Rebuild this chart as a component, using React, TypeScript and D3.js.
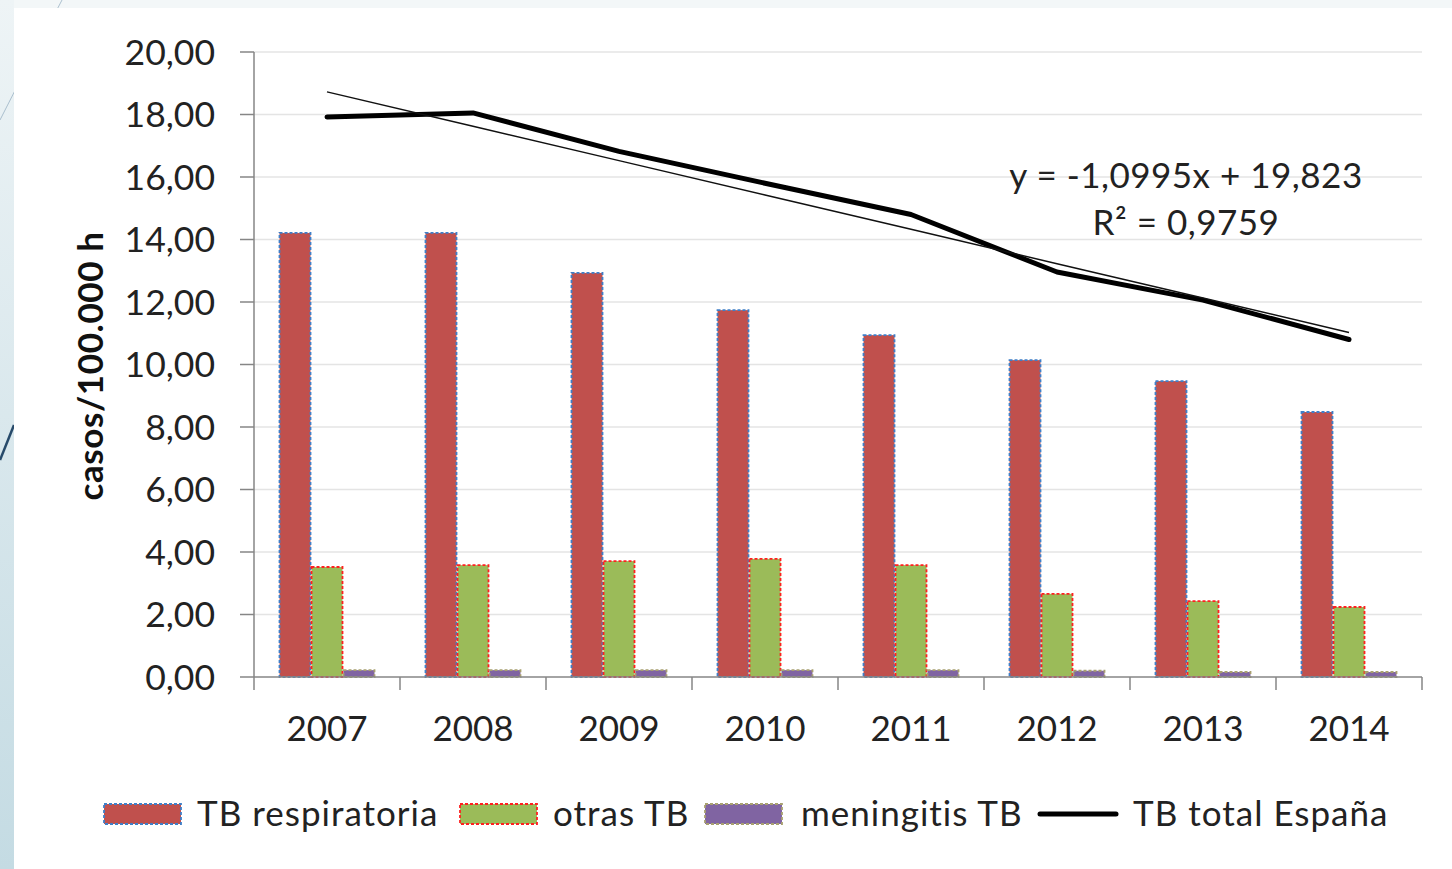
import React from "react";
import * as d3 from "d3";

const years = ["2007", "2008", "2009", "2010", "2011", "2012", "2013", "2014"];
const tbRespiratoria = [14.21, 14.21, 12.93, 11.74, 10.94, 10.14, 9.47, 8.48];
const otrasTB = [3.52, 3.58, 3.71, 3.78, 3.58, 2.66, 2.43, 2.24];
const meningitisTB = [0.22, 0.22, 0.22, 0.22, 0.22, 0.2, 0.16, 0.16];
const tbTotal = [17.92, 18.05, 16.82, 15.8, 14.8, 12.96, 12.06, 10.8];
const trendSlope = -1.0995;
const trendIntercept = 19.823;
const yTicks = [0, 2, 4, 6, 8, 10, 12, 14, 16, 18, 20];

const barSeries = [
  { name: "TB respiratoria", values: tbRespiratoria, fill: "#c0504d", stroke: "#3f7fc8" },
  { name: "otras TB", values: otrasTB, fill: "#9bbb59", stroke: "#ff2020" },
  { name: "meningitis TB", values: meningitisTB, fill: "#8064a2", stroke: "#a8a070" },
];

const FONT = "Lato, 'Open Sans', sans-serif";

export default function App() {
  const W = 1452, H = 869;
  const left = 254, right = 1422, top = 52, bottom = 677;
  const x = d3.scaleBand<string>().domain(years).range([left, right]).padding(0);
  const y = d3.scaleLinear().domain([0, 20]).range([bottom, top]);
  const bw = 32;
  const fmt = (v: number) => v.toFixed(2).replace(".", ",");
  const cx = (i: number) => (x(years[i]) as number) + x.bandwidth() / 2;

  const line = d3.line<number>().x((_, i) => cx(i)).y((d) => y(d));
  const trendVals = years.map((_, i) => trendSlope * (i + 1) + trendIntercept);

  return (
    <svg width={W} height={H} style={{ position: "absolute", left: 0, top: 0 }} xmlns="http://www.w3.org/2000/svg">
      <defs>
        <linearGradient id="leftg" x1="0" y1="0" x2="0" y2="1">
          <stop offset="0" stopColor="#eef4f6" />
          <stop offset="1" stopColor="#c4dbe3" />
        </linearGradient>
      </defs>
      <rect x={0} y={0} width={W} height={H} fill="#f3f7f8" />
      <rect x={0} y={0} width={14} height={H} fill="url(#leftg)" />
      <path d="M0,120 Q30,60 62,0" fill="none" stroke="#9ab3c4" strokeWidth={0.8} />
      <path d="M0,460 L14,425" fill="none" stroke="#274a6a" strokeWidth={2.5} />
      <rect x={14} y={8} width={W - 14} height={H - 8} fill="#ffffff" />

      {/* gridlines */}
      {yTicks.filter((t) => t > 0).map((t) => (
        <line key={t} x1={left} x2={right} y1={y(t)} y2={y(t)} stroke="#e4e4e4" strokeWidth={1.5} />
      ))}

      {/* bars */}
      {barSeries.map((s, si) =>
        s.values.map((v, i) => {
          const bx = (x(years[i]) as number) + (x.bandwidth() - 3 * bw) / 2 + si * bw;
          return (
            <rect key={s.name + i} x={bx + 0.5} y={y(v)} width={bw - 1} height={bottom - y(v)}
              fill={s.fill} stroke={s.stroke} strokeWidth={1.8} strokeDasharray="3,2" />
          );
        })
      )}

      {/* axes */}
      <line x1={left} x2={left} y1={top} y2={bottom} stroke="#868686" strokeWidth={1.5} />
      {yTicks.map((t) => (
        <g key={t}>
          <line x1={left - 14} x2={left} y1={y(t)} y2={y(t)} stroke="#868686" strokeWidth={1.5} />
          <text x={215} y={y(t)} dy="0.36em" textAnchor="end" fontFamily={FONT} fontSize={35.5} fill="#222">
            {fmt(t)}
          </text>
        </g>
      ))}
      <line x1={left} x2={right} y1={bottom} y2={bottom} stroke="#868686" strokeWidth={1.5} />
      {years.map((yr) => (
        <line key={"t" + yr} x1={x(yr) as number} x2={x(yr) as number} y1={bottom} y2={bottom + 13} stroke="#868686" strokeWidth={1.5} />
      ))}
      <line x1={right} x2={right} y1={bottom} y2={bottom + 13} stroke="#868686" strokeWidth={1.5} />
      {years.map((yr, i) => (
        <text key={"l" + yr} x={cx(i)} y={728} dy="0.36em" textAnchor="middle" fontFamily={FONT} fontSize={35} fill="#222">
          {yr}
        </text>
      ))}

      <text transform="translate(90,366) rotate(-90)" textAnchor="middle" dy="0.36em" fontFamily={FONT} fontWeight="bold" fontSize={35} letterSpacing={0.6} fill="#111">
        casos/100.000 h
      </text>

      {/* total line */}
      <path d={line(tbTotal) || ""} fill="none" stroke="#000" strokeWidth={5} strokeLinejoin="round" strokeLinecap="round" />
      {/* trend line */}
      <path d={line(trendVals) || ""} fill="none" stroke="#111" strokeWidth={1.5} />

      <text x={1186} y={175} dy="0.36em" textAnchor="middle" fontFamily={FONT} fontSize={35} letterSpacing={0.5} fill="#222">
        y = -1,0995x + 19,823
      </text>
      <text x={1186} y={222} dy="0.36em" textAnchor="middle" fontFamily={FONT} fontSize={35} letterSpacing={0.5} fill="#222">
        R² = 0,9759
      </text>

      {/* legend */}
      {[
        { sx: 104, tx: 197, s: barSeries[0] },
        { sx: 460, tx: 553, s: barSeries[1] },
        { sx: 705, tx: 801, s: barSeries[2] },
      ].map((l) => (
        <g key={l.s.name}>
          <rect x={l.sx} y={804} width={77} height={20} fill={l.s.fill} stroke={l.s.stroke} strokeWidth={1.8} strokeDasharray="3,2" />
          <text x={l.tx} y={813} dy="0.36em" fontFamily={FONT} fontSize={35} letterSpacing={1} fill="#222">{l.s.name}</text>
        </g>
      ))}
      <line x1={1040} x2={1116} y1={814} y2={814} stroke="#000" strokeWidth={5} strokeLinecap="round" />
      <text x={1133} y={813} dy="0.36em" fontFamily={FONT} fontSize={35} letterSpacing={1} fill="#222">TB total España</text>
    </svg>
  );
}
